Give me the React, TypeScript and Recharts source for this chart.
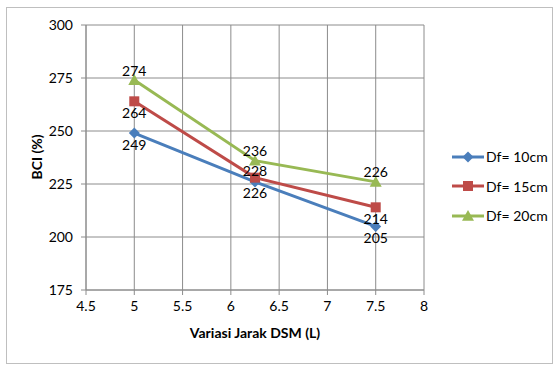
import { LineChart, Line, XAxis, YAxis, CartesianGrid, Legend, LabelList } from 'recharts';

// BCI terhadap variasi jarak DSM untuk tiga kedalaman pondasi
const jarakDSM = [5, 6.25, 7.5];
const bciDf10 = [249, 226, 205];
const bciDf15 = [264, 228, 214];
const bciDf20 = [274, 236, 226];

const xTicks = [4.5, 5, 5.5, 6, 6.5, 7, 7.5, 8];
const yTicks = [175, 200, 225, 250, 275, 300];

const FONT = 'Lato, "Open Sans", sans-serif';
const FS = 14;
const GRID = '#8c8c8c';

type Side = 'above' | 'below';

const SERIES: { key: string; name: string; color: string; marker: 'diamond' | 'square' | 'triangle'; labels: Side[] }[] = [
  { key: 'df10', name: 'Df= 10cm', color: '#4a7ebb', marker: 'diamond', labels: ['below', 'below', 'below'] },
  { key: 'df15', name: 'Df= 15cm', color: '#be4b48', marker: 'square', labels: ['below', 'above', 'below'] },
  { key: 'df20', name: 'Df= 20cm', color: '#98b954', marker: 'triangle', labels: ['above', 'above', 'above'] },
];

const data = jarakDSM.map((x, i) => ({
  x,
  df10: bciDf10[i],
  df15: bciDf15[i],
  df20: bciDf20[i],
}));

function Marker({ cx, cy, shape, color }: { cx: number; cy: number; shape: string; color: string }) {
  if (shape === 'diamond') {
    const r = 5.5;
    return <polygon points={`${cx},${cy - r} ${cx + r},${cy} ${cx},${cy + r} ${cx - r},${cy}`} fill={color} />;
  }
  if (shape === 'square') {
    const r = 5;
    return <rect x={cx - r} y={cy - r} width={2 * r} height={2 * r} fill={color} />;
  }
  const r = 6;
  return <polygon points={`${cx},${cy - r} ${cx + r},${cy + r * 0.8} ${cx - r},${cy + r * 0.8}`} fill={color} />;
}

function renderLegend() {
  return (
    <div style={{ fontFamily: FONT, fontSize: FS, color: '#000' }}>
      {SERIES.map((s) => (
        <div key={s.key} style={{ display: 'flex', alignItems: 'center', height: 29.5 }}>
          <svg width={34} height={14} style={{ marginRight: 1 }}>
            <line x1={1} y1={7} x2={33} y2={7} stroke={s.color} strokeWidth={3} />
            <Marker cx={17} cy={7} shape={s.marker} color={s.color} />
          </svg>
          <span>{s.name}</span>
        </div>
      ))}
    </div>
  );
}

export default function App() {
  return (
    <div style={{ position: 'absolute', left: 0, top: 0, width: 556, height: 365, background: '#fff' }}>
      <div
        style={{
          position: 'absolute',
          left: 6,
          top: 7,
          width: 545,
          height: 355,
          border: '1px solid #bfbfbf',
        }}
      />
      <LineChart width={556} height={365} data={data} margin={{ top: 25, right: 132, bottom: 25, left: 0 }}>
        <CartesianGrid stroke={GRID} strokeWidth={1} horizontalValues={yTicks} verticalValues={xTicks} />
        <XAxis
          dataKey="x"
          type="number"
          domain={[4.5, 8]}
          ticks={xTicks}
          interval={0}
          height={50}
          stroke={GRID}
          tickSize={5}
          tickMargin={6}
          tick={{ fill: '#000', fontSize: FS, fontFamily: FONT }}
          label={{
            value: 'Variasi Jarak DSM (L)',
            position: 'insideBottom',
            offset: 2,
            style: { fill: '#000', fontSize: FS, fontWeight: 700, fontFamily: FONT },
          }}
        />
        <YAxis
          type="number"
          domain={[175, 300]}
          ticks={yTicks}
          interval={0}
          width={86}
          stroke={GRID}
          tickSize={5}
          tickMargin={8}
          tick={{ fill: '#000', fontSize: FS, fontFamily: FONT }}
          label={{
            content: () => (
              <text
                transform="translate(36,157) rotate(-90)"
                textAnchor="middle"
                dominantBaseline="central"
                fill="#000"
                fontSize={FS}
                fontWeight={700}
                fontFamily={FONT}
              >
                BCI (%)
              </text>
            ),
          }}
        />
        <Legend
          layout="vertical"
          align="center"
          verticalAlign="middle"
          content={renderLegend}
          wrapperStyle={{ left: 451, top: 142, width: 100 }}
        />
        {SERIES.map((s) => (
          <Line
            key={s.key}
            type="linear"
            dataKey={s.key}
            name={s.name}
            stroke={s.color}
            strokeWidth={3}
            isAnimationActive={false}
            dot={(p: any) => <Marker key={`${s.key}-${p.index}`} cx={p.cx} cy={p.cy} shape={s.marker} color={s.color} />}
            activeDot={false}
          >
            <LabelList
              dataKey={s.key}
              content={(p: any) => {
                const side = s.labels[p.index];
                const dy = side === 'above' ? (s.key === 'df15' ? -7 : -10) : 11;
                return (
                  <text
                    x={p.x}
                    y={p.y + dy}
                    textAnchor="middle"
                    dominantBaseline="central"
                    fill="#000"
                    fontSize={FS}
                    fontFamily={FONT}
                  >
                    {p.value}
                  </text>
                );
              }}
            />
          </Line>
        ))}
      </LineChart>
    </div>
  );
}
